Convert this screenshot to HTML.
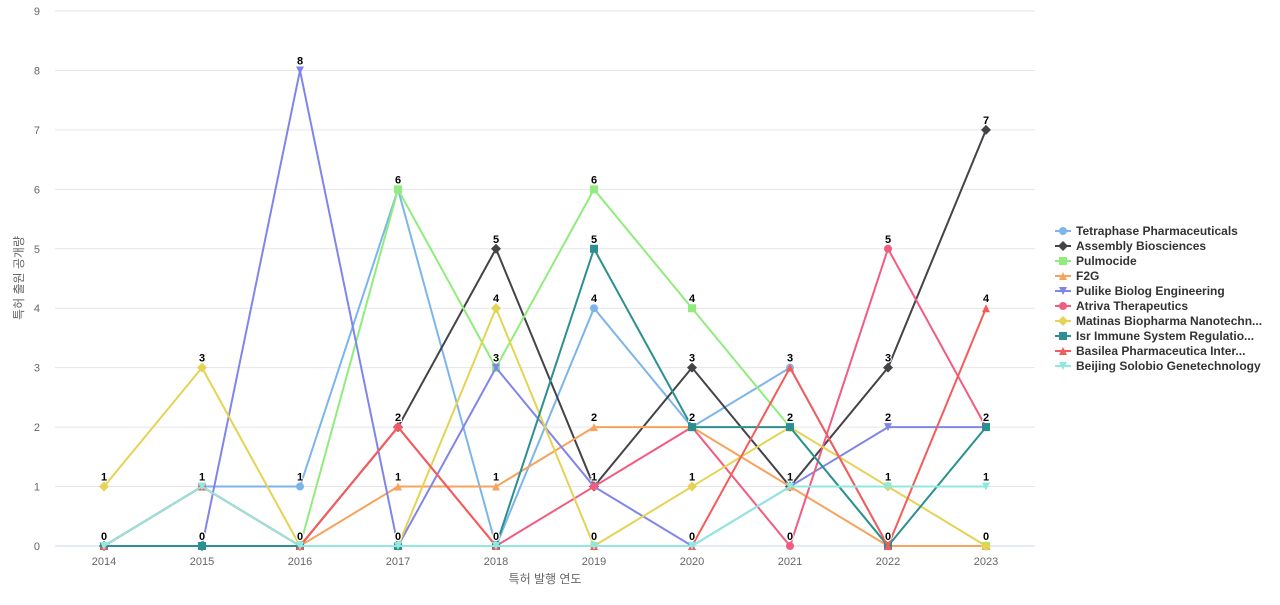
<!DOCTYPE html>
<html><head><meta charset="utf-8"><style>
body{margin:0;background:#fff;font-family:"Liberation Sans","Noto Sans CJK KR",sans-serif}
</style></head><body>
<svg id="c" width="1280" height="600" xmlns="http://www.w3.org/2000/svg"></svg>
<script>
const years=[2014,2015,2016,2017,2018,2019,2020,2021,2022,2023];
const yTicks=[0,1,2,3,4,5,6,7,8,9];
const names=["Tetraphase Pharmaceuticals","Assembly Biosciences","Pulmocide","F2G","Pulike Biolog Engineering","Atriva Therapeutics","Matinas Biopharma Nanotechn...","Isr Immune System Regulatio...","Basilea Pharmaceutica Inter...","Beijing Solobio Genetechnology"];
const s0=[0,1,1,6,0,4,2,3,0,0];
const s1=[0,0,0,2,5,1,3,1,3,7];
const s2=[0,1,0,6,3,6,4,2,0,0];
const s3=[0,1,0,1,1,2,2,1,0,0];
const s4=[0,0,8,0,3,1,0,1,2,2];
const s5=[0,1,0,2,0,1,2,0,5,2];
const s6=[1,3,0,0,4,0,1,2,1,0];
const s7=[0,0,0,0,0,5,2,2,0,2];
const s8=[0,1,0,2,0,0,0,3,0,4];
const s9=[0,1,0,0,0,0,0,1,1,1];
const series=[s0,s1,s2,s3,s4,s5,s6,s7,s8,s9];
const colors=["#7cb5ec","#434348","#90ed7d","#f7a35c","#8085e9","#f15c80","#e4d354","#2b908f","#f45b5b","#91e8e1"];
const shapes=["circle","diamond","square","triangle","tdown"];
const svg=document.getElementById('c');const NS="http://www.w3.org/2000/svg";
const x=i=>104+i*98;const y=v=>546-v*(535/9);
function mk(t,a,p){const e=document.createElementNS(NS,t);for(const k in a)e.setAttribute(k,a[k]);(p||svg).appendChild(e);return e;}
function marker(sh,cx,cy,col,r,p){
 if(sh==="circle")return mk("circle",{cx,cy,r:r,fill:col},p);
 if(sh==="square")return mk("rect",{x:cx-r,y:cy-r,width:2*r,height:2*r,fill:col},p);
 if(sh==="diamond")return mk("path",{d:`M${cx},${cy-r-1}L${cx+r+1},${cy}L${cx},${cy+r+1}L${cx-r-1},${cy}Z`,fill:col},p);
 if(sh==="triangle")return mk("path",{d:`M${cx},${cy-r}L${cx+r},${cy+r}L${cx-r},${cy+r}Z`,fill:col},p);
 return mk("path",{d:`M${cx-r},${cy-r}L${cx+r},${cy-r}L${cx},${cy+r}Z`,fill:col},p);
}
yTicks.forEach(v=>{const g=mk("line",{x1:55,x2:1035,y1:y(v),y2:y(v),stroke:v===0?"#ccd6eb":"#e6e6e6","stroke-width":1});
 const t=mk("text",{x:40,y:y(v)+4,"text-anchor":"end","font-size":11,fill:"#666"});t.textContent=v;});
years.forEach((yr,i)=>{const t=mk("text",{x:x(i),y:565,"text-anchor":"middle","font-size":11,fill:"#666"});t.textContent=yr;});
let t=mk("text",{x:545,y:583,"text-anchor":"middle","font-size":12,fill:"#666"});t.textContent="특허 발행 연도";
t=mk("text",{x:0,y:0,transform:"translate(23,278) rotate(-90)","text-anchor":"middle","font-size":12,fill:"#666"});t.textContent="특허 출원 공개량";
series.forEach((s,k)=>{const g=mk("g",{});
 const pl=mk("polyline",{points:s.map((v,i)=>x(i)+","+y(v)).join(" "),fill:"none",stroke:colors[k],"stroke-width":2},g);
 s.forEach((v,i)=>{const m=marker(shapes[k%5],x(i),y(v),colors[k],4,g);});});
series.forEach((s,k)=>{s.forEach((v,i)=>{const l=mk("text",{x:x(i),y:y(v)-6,"text-anchor":"middle","font-size":11,"font-weight":"bold",fill:"#000",stroke:"#fff","stroke-width":2,"paint-order":"stroke"});l.textContent=v;});});
names.forEach((n,k)=>{const ly=231+k*15;const g=mk("g",{});
 mk("line",{x1:1055,x2:1071,y1:ly,y2:ly,stroke:colors[k],"stroke-width":2},g);marker(shapes[k%5],1063,ly,colors[k],4,g);
 const tt=mk("text",{x:1076,y:ly+4,"font-size":12,"font-weight":"bold",fill:"#333"},g);tt.textContent=n;});
</script></body></html>
